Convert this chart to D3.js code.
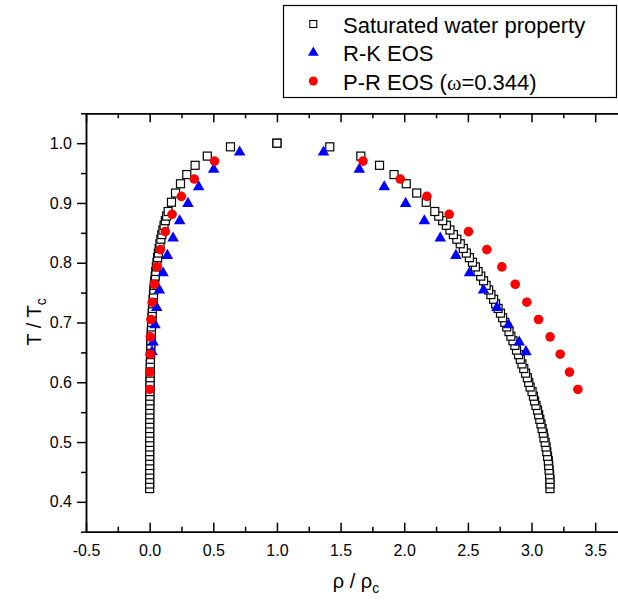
<!DOCTYPE html>
<html>
<head>
<meta charset="utf-8">
<script src="https://cdn.jsdelivr.net/npm/d3@7"></script>
<style>
  html, body { margin: 0; padding: 0; background: #fff; }
  svg { display: block; }
  text { font-family: "Liberation Sans", Arial, sans-serif; fill: #000; }
</style>
</head>
<body>
<div id="chart"></div>
<script>
// Saturated water (steam table): reduced temperature and reduced densities
const satTr = [
  0.4221, 0.4298, 0.4376, 0.4453, 0.4530, 0.4607, 0.4685, 0.4762, 0.4839, 0.4917,
  0.4994, 0.5071, 0.5148, 0.5226, 0.5303, 0.5380, 0.5457, 0.5535, 0.5612, 0.5689,
  0.5767, 0.5844, 0.5921, 0.5998, 0.6076, 0.6153, 0.6230, 0.6307, 0.6385, 0.6462,
  0.6539, 0.6617, 0.6694, 0.6771, 0.6848, 0.6926, 0.7003, 0.7080, 0.7157, 0.7235,
  0.7312, 0.7389, 0.7467, 0.7544, 0.7621, 0.7698, 0.7776, 0.7853, 0.7930, 0.8008,
  0.8085, 0.8162, 0.8239, 0.8317, 0.8394, 0.8471, 0.8548, 0.8626, 0.8703, 0.8780,
  0.8857, 0.9012, 0.9166, 0.9321, 0.9475, 0.9630, 0.9784, 0.9939, 1.0000
];
const satRhoVap = [
  0.0000, 0.0000, 0.0000, 0.0000, 0.0001, 0.0001, 0.0001, 0.0001, 0.0002, 0.0002,
  0.0003, 0.0003, 0.0004, 0.0005, 0.0006, 0.0008, 0.0009, 0.0011, 0.0013, 0.0016,
  0.0019, 0.0022, 0.0026, 0.0030, 0.0035, 0.0041, 0.0047, 0.0054, 0.0062, 0.0071,
  0.0080, 0.0091, 0.0103, 0.0115, 0.0130, 0.0145, 0.0162, 0.0181, 0.0201, 0.0223,
  0.0247, 0.0273, 0.0302, 0.0332, 0.0365, 0.0401, 0.0440, 0.0482, 0.0527, 0.0575,
  0.0628, 0.0685, 0.0746, 0.0812, 0.0883, 0.0960, 0.1043, 0.1133, 0.1231, 0.1337,
  0.1452, 0.1715, 0.2033, 0.2423, 0.2917, 0.3571, 0.4529, 0.6349, 1.0000
];
const satRhoLiq = [
  3.145, 3.145, 3.145, 3.142, 3.138, 3.135, 3.132, 3.126, 3.120, 3.114,
  3.107, 3.098, 3.092, 3.083, 3.074, 3.065, 3.056, 3.047, 3.035, 3.024,
  3.015, 3.004, 2.989, 2.978, 2.967, 2.953, 2.939, 2.925, 2.912, 2.898,
  2.882, 2.869, 2.854, 2.838, 2.823, 2.805, 2.790, 2.773, 2.756, 2.737,
  2.718, 2.702, 2.681, 2.663, 2.643, 2.623, 2.601, 2.580, 2.559, 2.536,
  2.512, 2.488, 2.464, 2.440, 2.413, 2.386, 2.359, 2.331, 2.302, 2.271,
  2.240, 2.173, 2.098, 2.016, 1.920, 1.806, 1.659, 1.415, 1.000
];

// Redlich-Kwong equation of state
const rkTr      = [0.985, 0.956, 0.927, 0.899, 0.870, 0.841, 0.812, 0.783, 0.754, 0.725, 0.696, 0.667, 0.651];
const rkRhoVap  = [0.707, 0.503, 0.385, 0.301, 0.236, 0.184, 0.139, 0.105, 0.076, 0.056, 0.042, 0.027, 0.019];
const rkRhoLiq  = [1.366, 1.647, 1.843, 2.011, 2.158, 2.283, 2.406, 2.513, 2.623, 2.728, 2.819, 2.903, 2.956];

// Peng-Robinson equation of state (acentric factor 0.344)
const prTr      = [0.970, 0.940, 0.911, 0.881, 0.852, 0.822, 0.793, 0.764, 0.734, 0.705, 0.676, 0.647, 0.617, 0.588];
const prRhoVap  = [0.510, 0.351, 0.249, 0.176, 0.123, 0.084, 0.058, 0.037, 0.020, 0.010, 0.005, 0.003, 0.001, 0.001];
const prRhoLiq  = [1.676, 1.969, 2.178, 2.353, 2.505, 2.649, 2.767, 2.872, 2.963, 3.055, 3.146, 3.225, 3.298, 3.364];

// Axis ticks
const xTicks = [-0.5, 0.0, 0.5, 1.0, 1.5, 2.0, 2.5, 3.0, 3.5];
const yTicks = [0.4, 0.5, 0.6, 0.7, 0.8, 0.9, 1.0];
const xMinor = [-0.25, 0.25, 0.75, 1.25, 1.75, 2.25, 2.75, 3.25, 3.75];
const yMinor = [0.35, 0.45, 0.55, 0.65, 0.75, 0.85, 0.95, 1.05];

const legendItems = ["Saturated water property", "R-K EOS", "P-R EOS"];

const W = 618, H = 602;
const svg = d3.select("#chart").append("svg").attr("width", W).attr("height", H);

const x = d3.scaleLinear().domain([-0.5, 3.75]).range([86, 627]);
const y = d3.scaleLinear().domain([0.35, 1.05]).range([531.7, 113.3]);

// one decimal, plain hyphen for negatives
const fmt = v => v.toFixed(1);
const AX = 1.5;

function styleAxis(g) {
  g.selectAll("path.domain").attr("stroke", "#000").attr("stroke-width", AX);
  g.selectAll(".tick line").attr("stroke", "#000").attr("stroke-width", AX);
  g.selectAll(".tick text").attr("font-size", 16).attr("fill", "#000")
    .style("font-family", '"Liberation Sans", Arial, sans-serif');
}

// left axis: outward ticks with labels
svg.append("g").attr("transform", `translate(${x(-0.5)},0)`)
  .call(d3.axisLeft(y).tickValues(yTicks).tickFormat(fmt).tickSize(9).tickSizeOuter(0).tickPadding(5))
  .call(styleAxis);
svg.append("g").attr("transform", `translate(${x(-0.5)},0)`)
  .call(d3.axisLeft(y).tickValues(yMinor).tickFormat("").tickSize(5).tickSizeOuter(0))
  .call(styleAxis);

// bottom axis: inward ticks with labels
svg.append("g").attr("transform", `translate(0,${y(0.35)})`)
  .call(d3.axisBottom(x).tickValues(xTicks).tickFormat(fmt).tickSize(-9).tickSizeOuter(0).tickPadding(13))
  .call(styleAxis);
svg.append("g").attr("transform", `translate(0,${y(0.35)})`)
  .call(d3.axisBottom(x).tickValues(xMinor).tickFormat("").tickSize(-5).tickSizeOuter(0))
  .call(styleAxis);

// top axis: inward ticks, no labels
svg.append("g").attr("transform", `translate(0,${y(1.05)})`)
  .call(d3.axisTop(x).tickValues(xTicks).tickFormat("").tickSize(-9).tickSizeOuter(0))
  .call(styleAxis);
svg.append("g").attr("transform", `translate(0,${y(1.05)})`)
  .call(d3.axisTop(x).tickValues(xMinor).tickFormat("").tickSize(-5).tickSizeOuter(0))
  .call(styleAxis);

// axis titles
const yTitle = svg.append("text")
  .attr("transform", `translate(41,322) rotate(-90)`)
  .attr("text-anchor", "middle").attr("font-size", 20);
yTitle.append("tspan").text("T / T");
yTitle.append("tspan").attr("dy", 5).attr("font-size", 14).text("c");

const xTitle = svg.append("text")
  .attr("x", 356).attr("y", 588)
  .attr("text-anchor", "middle").attr("font-size", 20);
xTitle.append("tspan").text("ρ / ρ");
xTitle.append("tspan").attr("dy", 5).attr("font-size", 14).text("c");

// markers
const sq = 8;
const satPts = [];
satTr.forEach((t, i) => { satPts.push({ r: satRhoVap[i], t }); });
satTr.forEach((t, i) => { satPts.push({ r: satRhoLiq[i], t }); });

const plot = svg.append("g");
plot.selectAll("rect.sat").data(satPts).join("rect")
  .attr("class", "sat")
  .attr("x", d => x(d.r) - sq / 2).attr("y", d => y(d.t) - sq / 2)
  .attr("width", sq).attr("height", sq)
  .attr("fill", "#fff").attr("stroke", "#000").attr("stroke-width", 1.2);

const tri = d3.symbol().type(d3.symbolTriangle).size(58);
const rkPts = rkTr.map((t, i) => ({ r: rkRhoVap[i], t }))
  .concat(rkTr.map((t, i) => ({ r: rkRhoLiq[i], t })));
plot.selectAll("path.rk").data(rkPts).join("path")
  .attr("class", "rk")
  .attr("d", tri)
  .attr("transform", d => `translate(${x(d.r)},${y(d.t)})`)
  .attr("fill", "#0000ff");

const prPts = prTr.map((t, i) => ({ r: prRhoVap[i], t }))
  .concat(prTr.map((t, i) => ({ r: prRhoLiq[i], t })));
plot.selectAll("circle.pr").data(prPts).join("circle")
  .attr("class", "pr")
  .attr("cx", d => x(d.r)).attr("cy", d => y(d.t)).attr("r", 4.8)
  .attr("fill", "#ff0000");

// legend
const lg = svg.append("g");
lg.append("rect").attr("x", 283.5).attr("y", 5.5).attr("width", 333).attr("height", 92)
  .attr("fill", "#fff").attr("stroke", "#000").attr("stroke-width", 1.2);
const lx = 313.3, rows = [24, 52.7, 81];
lg.append("rect").attr("x", lx - 3.5).attr("y", rows[0] - 3.5).attr("width", 7).attr("height", 7)
  .attr("fill", "#fff").attr("stroke", "#000").attr("stroke-width", 1.1);
lg.append("path").attr("d", d3.symbol().type(d3.symbolTriangle).size(50)())
  .attr("transform", `translate(${lx},${rows[1]})`).attr("fill", "#0000ff");
lg.append("circle").attr("cx", lx).attr("cy", rows[2]).attr("r", 4.5).attr("fill", "#ff0000");

const lt = lg.selectAll("text.lg").data(legendItems).join("text")
  .attr("class", "lg")
  .attr("x", 343).attr("y", (d, i) => rows[i] + 8.5)
  .attr("font-size", 22);
lt.filter((d, i) => i < 2).text(d => d);
const prText = lt.filter((d, i) => i === 2);
prText.append("tspan").text("P-R EOS (");
prText.append("tspan").style("font-family", '"Liberation Serif", "Times New Roman", serif').text("ω");
prText.append("tspan").text("=0.344)");
</script>
</body>
</html>
